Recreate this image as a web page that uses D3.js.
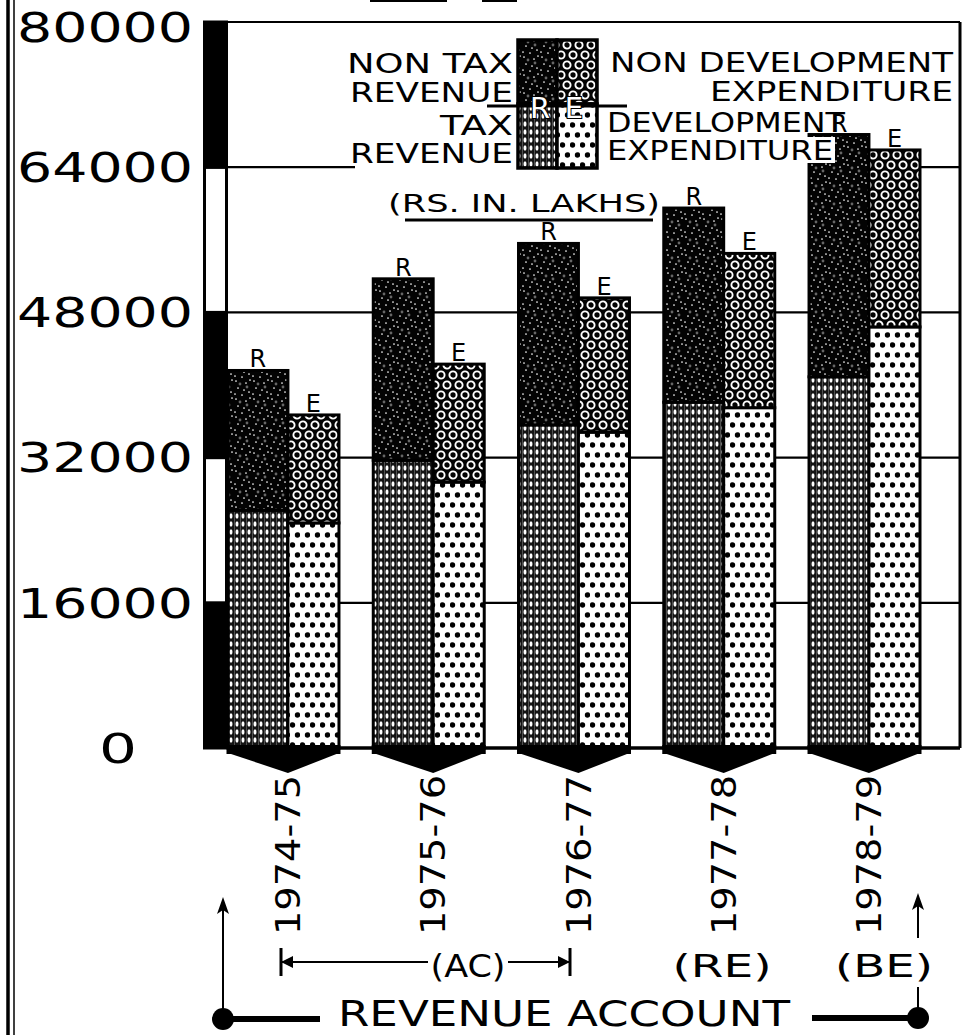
<!DOCTYPE html>
<html>
<head>
<meta charset="utf-8">
<script src="https://cdn.jsdelivr.net/npm/d3@7"></script>
<style>
  html, body { margin: 0; padding: 0; background: #fff; }
  svg { display: block; }
  text { font-family: "DejaVu Sans", sans-serif; fill: #000; }
</style>
</head>
<body>
<div id="chart"></div>
<script>
// ---------------- DATA ----------------
const years = ["1974-75", "1975-76", "1976-77", "1977-78", "1978-79"];
// Revenue receipts (Rs. in lakhs)
const taxRevenue      = [26200, 31700, 35600, 38100, 40900];
const nonTaxRevenue   = [15400, 20000, 20000, 21400, 26700];
// Revenue expenditure (Rs. in lakhs)
const devExpenditure    = [24800, 29300, 34800, 37500, 46400];
const nonDevExpenditure = [11900, 13000, 14800, 17000, 19500];
const yTicks = [0, 16000, 32000, 48000, 64000, 80000];
const yTickLabels = ["0", "16000", "32000", "48000", "64000", "80000"];
const barLetters = ["R", "E"];
const statusLabels = ["(AC)", "(RE)", "(BE)"];
const unitLabel = "(RS. IN. LAKHS)";
const footerLabel = "REVENUE ACCOUNT";

// ---------------- SETUP ----------------
const W = 965, H = 1035;
const svg = d3.select("#chart").append("svg").attr("width", W).attr("height", H);
const defs = svg.append("defs");

const y = d3.scaleLinear().domain([0, 80000]).range([748, 22]);
const x = d3.scaleBand().domain(years).range([228, 920]).paddingInner(0.236);
const rFrac = 0.54;
const plotLeft = 227, plotRight = 960;

// ---------------- PATTERNS ----------------
// Tax revenue: dark vertical stripes with white ovals
const pTax = defs.append("pattern").attr("id", "pTax").attr("patternUnits", "userSpaceOnUse")
  .attr("width", 6).attr("height", 8);
pTax.append("rect").attr("width", 6).attr("height", 8).attr("fill", "#141414");
pTax.append("ellipse").attr("cx", 3).attr("cy", 4).attr("rx", 1.5).attr("ry", 2.7).attr("fill", "#fff");
pTax.append("line").attr("x1", 0.4).attr("x2", 0.4).attr("y1", 0).attr("y2", 8).attr("stroke", "#6a6a6a").attr("stroke-width", 0.8);

// Non tax revenue: black with sparse speckles
const pNonTax = defs.append("pattern").attr("id", "pNonTax").attr("patternUnits", "userSpaceOnUse")
  .attr("width", 18).attr("height", 18);
pNonTax.append("rect").attr("width", 18).attr("height", 18).attr("fill", "#030303");
[[2,3],[12,5],[16,2],[4,10],[10,12],[15,14],[1,16],[8,17]].forEach(p =>
  pNonTax.append("circle").attr("cx", p[0]).attr("cy", p[1]).attr("r", 0.85).attr("fill", "#fff"));
[[6,6],[13,9]].forEach(p =>
  pNonTax.append("circle").attr("cx", p[0]).attr("cy", p[1]).attr("r", 1.4).attr("fill", "#666"));

// Non development expenditure: black with white rings
const pNonDev = defs.append("pattern").attr("id", "pNonDev").attr("patternUnits", "userSpaceOnUse")
  .attr("width", 12).attr("height", 20);
pNonDev.append("rect").attr("width", 12).attr("height", 20).attr("fill", "#030303");
[[3,5],[15,5],[9,15],[-3,15]].forEach(p =>
  pNonDev.append("circle").attr("cx", p[0]).attr("cy", p[1]).attr("r", 3.6)
    .attr("fill", "none").attr("stroke", "#fff").attr("stroke-width", 1.9));

// Development expenditure: white with black dots
const pDev = defs.append("pattern").attr("id", "pDev").attr("patternUnits", "userSpaceOnUse")
  .attr("width", 10).attr("height", 20);
pDev.append("rect").attr("width", 10).attr("height", 20).attr("fill", "#fff");
[[2.5,5],[7.5,15]].forEach(p =>
  pDev.append("circle").attr("cx", p[0]).attr("cy", p[1]).attr("r", 2.7).attr("fill", "#000"));

// ---------------- FRAME / GRID ----------------
// left double border
svg.append("line").attr("x1", 8).attr("x2", 8).attr("y1", 0).attr("y2", H).attr("stroke", "#000").attr("stroke-width", 3.5);
svg.append("line").attr("x1", 14).attr("x2", 14).attr("y1", 0).attr("y2", H).attr("stroke", "#000").attr("stroke-width", 1.5);

// cut-off title underline at very top
svg.append("line").attr("x1", 370).attr("x2", 447).attr("y1", 1).attr("y2", 1).attr("stroke", "#000").attr("stroke-width", 2);
svg.append("line").attr("x1", 482).attr("x2", 517).attr("y1", 1).attr("y2", 1).attr("stroke", "#000").attr("stroke-width", 2);

svg.append("g").selectAll("line").data(yTicks).join("line")
  .attr("x1", plotLeft).attr("x2", plotRight)
  .attr("y1", d => y(d)).attr("y2", d => y(d))
  .attr("stroke", "#000").attr("stroke-width", d => d === 0 ? 3.5 : 2.2);
svg.append("line").attr("x1", plotRight).attr("x2", plotRight)
  .attr("y1", y(80000)).attr("y2", y(0)).attr("stroke", "#000").attr("stroke-width", 3);

// white backdrop behind legend (hides the 64000 grid line there)
svg.append("rect").attr("x", 355).attr("y", 30).attr("width", 917 - 355).attr("height", 150).attr("fill", "#fff");

// alternating black / white axis band
const segs = d3.pairs(yTicks);
svg.append("g").selectAll("rect").data(segs).join("rect")
  .attr("x", 204.5).attr("width", 22)
  .attr("y", d => y(d[1])).attr("height", d => y(d[0]) - y(d[1]))
  .attr("fill", (d, i) => i % 2 === 0 ? "#000" : "#fff")
  .attr("stroke", "#000").attr("stroke-width", 3);

// tick labels
svg.append("g").selectAll("text").data(yTicks).join("text")
  .attr("x", d => d === 0 ? 118 : 193)
  .attr("y", d => Math.max(y(d), 27))
  .attr("dy", "0.36em")
  .attr("text-anchor", d => d === 0 ? "middle" : "end")
  .attr("font-size", 41)
  .attr("textLength", d => d === 0 ? 38 : 176)
  .attr("lengthAdjust", "spacingAndGlyphs")
  .text((d, i) => yTickLabels[i]);

// ---------------- BARS ----------------
years.forEach((yr, i) => {
  const gx = x(yr), bw = x.bandwidth(), rW = bw * rFrac, eW = bw - rW;
  const g = svg.append("g");
  const segsR = [
    { y0: 0, y1: taxRevenue[i], fill: "url(#pTax)" },
    { y0: taxRevenue[i], y1: taxRevenue[i] + nonTaxRevenue[i], fill: "url(#pNonTax)" }
  ];
  const segsE = [
    { y0: 0, y1: devExpenditure[i], fill: "url(#pDev)" },
    { y0: devExpenditure[i], y1: devExpenditure[i] + nonDevExpenditure[i], fill: "url(#pNonDev)" }
  ];
  g.selectAll("rect.r").data(segsR).join("rect").attr("class", "r")
    .attr("x", gx).attr("width", rW)
    .attr("y", d => y(d.y1)).attr("height", d => y(d.y0) - y(d.y1))
    .attr("fill", d => d.fill).attr("stroke", "#000").attr("stroke-width", 3);
  g.selectAll("rect.e").data(segsE).join("rect").attr("class", "e")
    .attr("x", gx + rW).attr("width", eW)
    .attr("y", d => y(d.y1)).attr("height", d => y(d.y0) - y(d.y1))
    .attr("fill", d => d.fill).attr("stroke", "#000").attr("stroke-width", 3);

  // pencil-tip base
  g.append("rect").attr("x", gx - 1.5).attr("y", y(0) - 3).attr("width", bw + 3).attr("height", 9).attr("fill", "#000");
  g.append("path")
    .attr("d", `M${gx},${y(0) + 5} L${gx + bw},${y(0) + 5} L${gx + rW},${y(0) + 25} Z`)
    .attr("fill", "#000");

  // R / E letters above bars
  const tops = [taxRevenue[i] + nonTaxRevenue[i], devExpenditure[i] + nonDevExpenditure[i]];
  const cxs = [gx + rW / 2, gx + rW + eW / 2];
  barLetters.forEach((L, k) => {
    g.append("text").attr("x", cxs[k]).attr("y", y(tops[k]) - 3)
      .attr("text-anchor", "middle").attr("font-size", 24).text(L);
  });

  // year label (rotated)
  svg.append("text")
    .attr("transform", `translate(${gx + rW},935) rotate(-90)`)
    .attr("dy", "0.36em").attr("text-anchor", "start")
    .attr("font-size", 34).attr("textLength", 160).attr("lengthAdjust", "spacingAndGlyphs")
    .text(yr);
});

// ---------------- LEGEND ----------------
const lg = svg.append("g");
const lx0 = 518, lxm = 557, lx1 = 597, ly0 = 40, lym = 104, ly1 = 168;
[
  { x: lx0, y: ly0, w: lxm - lx0, h: lym - ly0, fill: "url(#pNonTax)" },
  { x: lxm, y: ly0, w: lx1 - lxm, h: lym - ly0, fill: "url(#pNonDev)" },
  { x: lx0, y: lym, w: lxm - lx0, h: ly1 - lym, fill: "url(#pTax)" },
  { x: lxm, y: lym, w: lx1 - lxm, h: ly1 - lym, fill: "url(#pDev)" }
].forEach(c => lg.append("rect").attr("x", c.x).attr("y", c.y).attr("width", c.w).attr("height", c.h)
  .attr("fill", c.fill).attr("stroke", "#000").attr("stroke-width", 3.5));
lg.append("line").attr("x1", 487).attr("x2", 627).attr("y1", 106).attr("y2", 106).attr("stroke", "#000").attr("stroke-width", 3);
[["R", 540], ["E", 574]].forEach(([t, cx]) => {
  lg.append("text").attr("x", cx).attr("y", 118).attr("text-anchor", "middle").attr("font-size", 29)
    .style("fill", "#fff").attr("stroke", "#000").attr("stroke-width", 2).attr("paint-order", "stroke").text(t);
});

const legendLines = [
  { t: "NON TAX", a: "end", x: 513, y: 73, L: 166 },
  { t: "REVENUE", a: "end", x: 513, y: 102, L: 163 },
  { t: "TAX", a: "end", x: 513, y: 135, L: 73 },
  { t: "REVENUE", a: "end", x: 513, y: 163, L: 163 },
  { t: "NON DEVELOPMENT", a: "end", x: 953, y: 72, L: 343 },
  { t: "EXPENDITURE", a: "end", x: 953, y: 101, L: 243 },
  { t: "DEVELOPMENT", a: "start", x: 607, y: 132, L: 238 },
  { t: "EXPENDITURE", a: "start", x: 607, y: 160, L: 226, bg: true }
];
legendLines.forEach(d => {
  if (d.bg) lg.append("rect").attr("x", d.x - 2).attr("y", d.y - 23).attr("width", d.L + 4).attr("height", 26).attr("fill", "#fff");
  lg.append("text").attr("x", d.x).attr("y", d.y).attr("text-anchor", d.a)
    .attr("font-size", 26).attr("textLength", d.L).attr("lengthAdjust", "spacingAndGlyphs").text(d.t);
});

// units
svg.append("text").attr("x", 388).attr("y", 212).attr("font-size", 24)
  .attr("textLength", 272).attr("lengthAdjust", "spacingAndGlyphs").text(unitLabel);
svg.append("line").attr("x1", 405).attr("x2", 653).attr("y1", 220).attr("y2", 220).attr("stroke", "#000").attr("stroke-width", 3);

// ---------------- BOTTOM ANNOTATIONS ----------------
const ann = svg.append("g");
// (AC) span arrow
const acY = 962, acL = 281, acR = 570;
ann.append("line").attr("x1", acL).attr("x2", 428).attr("y1", acY).attr("y2", acY).attr("stroke", "#000").attr("stroke-width", 1.8);
ann.append("line").attr("x1", 508).attr("x2", acR).attr("y1", acY).attr("y2", acY).attr("stroke", "#000").attr("stroke-width", 1.8);
ann.append("line").attr("x1", acL).attr("x2", acL).attr("y1", 948).attr("y2", 976).attr("stroke", "#000").attr("stroke-width", 3);
ann.append("line").attr("x1", acR).attr("x2", acR).attr("y1", 948).attr("y2", 976).attr("stroke", "#000").attr("stroke-width", 3);
ann.append("path").attr("d", `M${acL},${acY} L${acL + 12},${acY - 6} L${acL + 12},${acY + 6} Z`).attr("fill", "#000");
ann.append("path").attr("d", `M${acR},${acY} L${acR - 12},${acY - 6} L${acR - 12},${acY + 6} Z`).attr("fill", "#000");

const statusPos = [{ x: 468, L: 75 }, { x: 722, L: 99 }, { x: 884, L: 98 }];
statusLabels.forEach((s, i) => {
  ann.append("text").attr("x", statusPos[i].x).attr("y", 977).attr("text-anchor", "middle")
    .attr("font-size", 32).attr("textLength", statusPos[i].L).attr("lengthAdjust", "spacingAndGlyphs").text(s);
});

// REVENUE ACCOUNT bracket
ann.append("text").attr("x", 338).attr("y", 1026).attr("font-size", 35)
  .attr("textLength", 452).attr("lengthAdjust", "spacingAndGlyphs").text(footerLabel);
// left
ann.append("circle").attr("cx", 223).attr("cy", 1019).attr("r", 11).attr("fill", "#000");
ann.append("line").attr("x1", 223).attr("x2", 320).attr("y1", 1019).attr("y2", 1019).attr("stroke", "#000").attr("stroke-width", 6);
ann.append("line").attr("x1", 223).attr("x2", 223).attr("y1", 1019).attr("y2", 910).attr("stroke", "#000").attr("stroke-width", 2);
ann.append("path").attr("d", "M223,897 L217,914 L223,910 L229,914 Z").attr("fill", "#000");
// right
ann.append("circle").attr("cx", 918).attr("cy", 1018).attr("r", 11).attr("fill", "#000");
ann.append("line").attr("x1", 812).attr("x2", 918).attr("y1", 1018).attr("y2", 1018).attr("stroke", "#000").attr("stroke-width", 6);
ann.append("line").attr("x1", 918).attr("x2", 918).attr("y1", 1018).attr("y2", 987).attr("stroke", "#000").attr("stroke-width", 2);
ann.append("line").attr("x1", 918).attr("x2", 918).attr("y1", 938).attr("y2", 905).attr("stroke", "#000").attr("stroke-width", 2);
ann.append("path").attr("d", "M918,893 L912,910 L918,906 L924,910 Z").attr("fill", "#000");
</script>
</body>
</html>
